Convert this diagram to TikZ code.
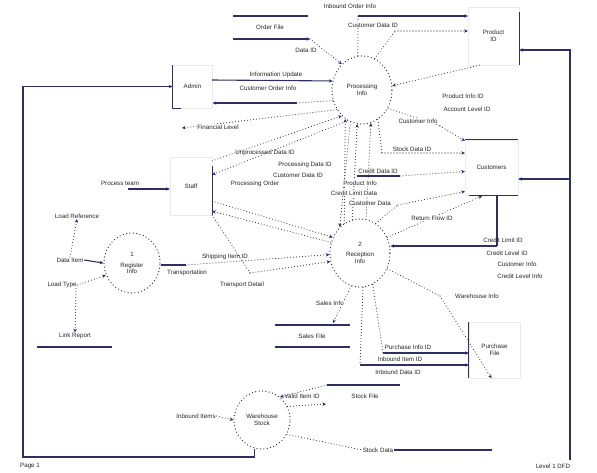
\documentclass[tikz,border=0pt]{standalone}
\usepackage{fontspec}
\setmainfont{Liberation Sans}
\usetikzlibrary{arrows.meta,shapes.geometric}
\definecolor{nv}{HTML}{23257A}
\definecolor{ln}{HTML}{2E2F62}
\begin{document}
\begin{tikzpicture}[x=1pt,y=-1pt,
  every node/.style={font=\fontsize{6.2}{6.8}\selectfont, inner sep=0.6pt, align=center, text=black!85},
  proc/.style={ellipse, draw=black!85, line width=1.25pt, dash pattern=on 0pt off 3.4pt, line cap=round, minimum width=60pt, minimum height=68pt},
  ext/.style={rectangle, draw=black!8, fill=white},
  data/.style={draw=ln, line width=1.1pt},
  flow/.style={draw=black!85, line width=1.05pt, dash pattern=on 0pt off 3pt, line cap=round},
  tip/.style={-{Stealth[length=3.6pt,width=3.4pt,nv]}},
  lab/.style={fill=white}]
\fill[white] (0,0) rectangle (597,472);
\useasboundingbox (0,0) rectangle (597,472);

% ---------- processes
\node[proc] (P1) at (362,90) {Processing\\Info};
\node[proc] (P2) at (360,253) {2\\[3pt]Reception\\Info};
\node[proc, minimum width=56pt, minimum height=60pt] (P3) at (132,263) {1\\[4pt]Register\\Info};
\node[proc, minimum width=56pt, minimum height=58pt] (P4) at (262,420) {Warehouse\\Stock};

% ---------- external entities
\node[ext, minimum width=51pt, minimum height=58pt] (Prod) at (493.5,36) {Product\\ID};
\draw[data] ([yshift=-5pt]Prod.north east) -- (Prod.south east);
\node[ext, minimum width=40pt, minimum height=43pt] (Admin) at (192.5,86.5) {Admin};
\draw[data] (Admin.north west) -- (Admin.south west) -- ++(9,0);
\node[ext, minimum width=42pt, minimum height=58pt] (Staff) at (191,186) {Staff};
\draw[data] ([yshift=-9pt]Staff.north east) -- (Staff.south east);
\node[ext, minimum width=53pt, minimum height=55pt] (Cust) at (491.5,167.5) {Customers};
\draw[data] (Cust.north west) -- (Cust.north east);
\draw[data] ([xshift=4pt]Cust.south west) -- (Cust.south east);
\node[ext, minimum width=51pt, minimum height=56pt] (Purch) at (494.5,350) {Purchase\\File};
\draw[data] (Purch.north west) -- (Purch.south west);

% ---------- data stores
\coordinate (TS1) at (233,16); \coordinate (TS2) at (308,16);
\coordinate (TS3) at (233,39); \coordinate (TS4) at (310,39);
\draw[data] (TS1) -- (TS2);
\draw[data,tip] (TS3) -- (TS4);
\node (OrdF) at (270,27) {Order File};
\coordinate (SS1) at (275,325); \coordinate (SS2) at (350,325);
\coordinate (SS3) at (275,347); \coordinate (SS4) at (350,347);
\draw[data] (SS1) -- (SS2); \draw[data] (SS3) -- (SS4);
\node (SalesF) at (312,336) {Sales File};
\coordinate (KS1) at (327,385); \coordinate (KS2) at (400,385);
\draw[data] (KS1) -- (KS2);
\node (StockF) at (365,396) {Stock File};
\node (LoadRef) at (77,216) {Load Reference};
\node (LinkRep) at (75,336) {Link Report};
\coordinate (LR1) at (37,347); \coordinate (LR2) at (112,347);
\draw[data] (LR1) -- (LR2);

% ---------- flows around P1
\coordinate (A1) at (212,80);
\draw[data,tip] (A1) -- (P1.163);
\node at (276,75) {Information Update};
\node at (268,88) {Customer Order Info};
\coordinate (A2) at (297,103);
\draw[flow] (P1.200) -- (A2);
\draw[data,tip] (A2) -- (Admin.east |- A2);
\coordinate (F1) at (182,128);
\draw[flow,tip] (P1.218) -- (F1);
\node[lab] at (218,127) {Financial Level};
\draw[flow,tip] (TS4) -- (P1.128);
\node[lab] at (306,50) {Data ID};
\coordinate (T1) at (358,16);
\draw[flow] (P1.97) -- (T1);
\draw[data,tip] (T1) -- (Prod.west |- T1);
\node at (350,6) {Inbound Order Info};
\coordinate (T2) at (395,31);
\draw[flow] (P1.68) -- (T2);
\draw[flow,tip] (T2) -- (Prod.west |- T2);
\node[lab] at (373,25) {Customer Data ID};
\draw[flow,tip] ([xshift=-14pt]Prod.south) -- (P1.8);
\node at (463,96) {Product Info ID};
\node at (467,109) {Account Level ID};
\coordinate (C0) at (440,126);
\draw[flow] (P1.325) -- (C0);
\draw[flow,tip] (C0) -- ([yshift=-1pt]Cust.north west);
\node[lab] at (418,121) {Customer Info};
\coordinate (C1) at (382,153);
\draw[flow] (P1.298) -- (C1);
\draw[flow,tip] (C1) -- (Cust.west |- C1);
\node[lab] at (412,149) {Stock Data ID};
\coordinate (C2) at (357,176); \coordinate (C3) at (400,176);
\draw[data] (C2) -- (C3);
\draw[flow,tip] (C3) -- ([yshift=-4pt]Cust.west);
\node at (378,171) {Credit Data ID};
\coordinate (C4) at (398,205);
\draw[flow] (P2.62) -- (C4);
\draw[flow,tip] (C4) -- ([yshift=-24pt]Cust.west);
\node at (370,203) {Customer Data};

% ---------- P1 <-> P2
\draw[flow,tip] (P2.103) -- (P1.262);
\draw[flow,tip] (P2.118) -- (P1.240);
\draw[flow,tip] (P2.80) -- (P1.285);
\draw[flow,tip] (P1.250) -- (P2.128);
\node[lab] at (360,183) {Product Info};
\node[lab] at (354,193) {Credit Limit Data};

% ---------- Staff
\coordinate (S0) at (165,188);
\node (PTeam) at (120,183) {Process team};
\coordinate (PT1) at (128,189); \coordinate (PT2) at (155,189);
\draw[data] (PT1) -- (PT2);
\draw[data,tip] (PT2) -- (Staff.west |- PT2);
\draw[flow,tip] ([yshift=-4pt]Staff.north east) -- (P1.232);
\draw[flow,tip] (P1.245) -- ([yshift=-18pt]Staff.north east);
\draw[flow,tip] ([yshift=14pt]Staff.south east) -- (P2.150);
\draw[flow,tip] (P2.160) -- ([yshift=4pt]Staff.south east);
\node at (265,153) {Unprocessed Data ID};
\node at (305,165) {Processing Data ID};
\node at (298,175) {Customer Data ID};
\node at (255,184) {Processing Order};
\coordinate (S1) at (250,273);
\draw[flow] (Staff.south east) -- (S1);
\draw[flow,tip] (S1) -- (P2.196);
\node at (242,285) {Transport Detail};
\coordinate (S2) at (186,265);
\draw[data] (P3.east |- S2) -- (S2);
\draw[flow,tip] (S2) -- (P2.183);
\node at (225,257) {Shipping Item ID};
\node at (187,273) {Transportation};

% ---------- Customers <-> P2
\coordinate (C5) at (497,246);
\draw[data] ([xshift=5.5pt]Cust.south) -- (C5);
\draw[data,tip] (C5) -- (P2.east |- C5);
\node at (503,240) {Credit Limit ID};
\node at (507,253) {Credit Level ID};
\node at (517,264) {Customer Info};
\node at (520,276) {Credit Level Info};
\coordinate (C6) at (482,196);
\draw[flow,tip] (P2.30) -- (C6);
\node[lab] at (432,218) {Return Flow ID};
\coordinate (R1) at (570,179);
\draw[data,tip] (R1) -- (Cust.east |- R1);

% ---------- P2 bottom
\draw[flow,tip] (P2.255) -- (333,323);
\node[lab] at (330,303) {Sales Info};
\coordinate (B1) at (383,353);
\draw[flow] (P2.292) -- (B1);
\draw[data,tip] (B1) -- (Purch.west |- B1);
\node at (408,347) {Purchase Info ID};
\coordinate (B2) at (360,365);
\draw[flow] (P2.275) -- (B2);
\draw[data,tip] (B2) -- (Purch.west |- B2);
\node at (400,359) {Inbound Item ID};
\node at (398,372) {Inbound Data ID};
\coordinate (W1) at (440,296);
\draw[flow] (P2.330) -- (W1);
\node at (477,296) {Warehouse Info};
\draw[flow,tip] (W1) -- ([xshift=-3pt]Purch.south);

% ---------- P3
\node (DataItem) at (70,260) {Data Item};
\draw[data,tip] (DataItem.east) -- (P3.180);
\draw[flow,tip] (DataItem.north) -- (LoadRef.south);
\node (LoadType) at (62,285) {Load Type};
\draw[flow,tip] (LoadType.east) -- (P3.205);
\draw[flow,tip] ([xshift=14pt]LoadType.south) -- (LinkRep.north);

% ---------- P4
\node (InItems) at (196,416) {Inbound Items};
\draw[flow,tip] (InItems.east) -- (P4.west);
\coordinate (V1) at (326,404);
\draw[flow,tip] (P4.28) -- (V1);
\node at (302,396) {Valid Item ID};
\draw[flow,tip] (KS1) -- (P4.52);
\node (StockData) at (378,450) {Stock Data};
\coordinate (SD1) at (492,450);
\draw[flow] (P4.330) -- (StockData.west);
\draw[data] (StockData.east) -- (SD1);
\coordinate (L1) at (23,457);
\draw[data,tip] (P4.255) |- (L1) |- (Admin.west);
\coordinate (R0) at (570,460);
\draw[data,tip] (R0) -- (570,50) -- (Prod.east |- 0,50);

% ---------- footer
\node at (30,466) {Page 1};
\node at (553,466) {Level 1 DFD};
\end{tikzpicture}
\end{document}
